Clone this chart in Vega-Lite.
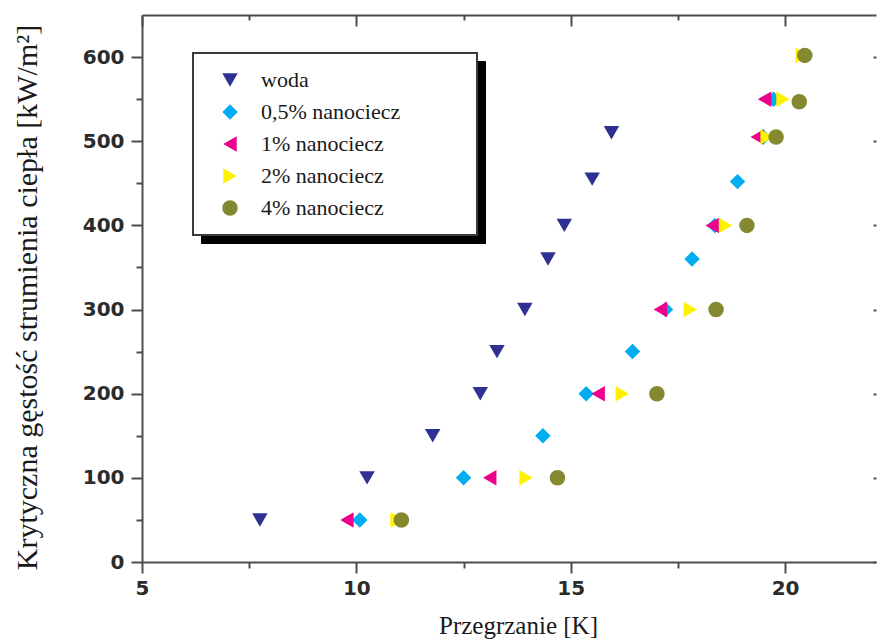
{
  "$schema": "https://vega.github.io/schema/vega-lite/v6.json",
  "width": 734,
  "height": 547,
  "autosize": {"type": "none"},
  "padding": {"left": 142, "top": 15, "right": 1, "bottom": 77},
  "background": "white",
  "config": {"view": {"stroke": null}},
  "data": {
    "values": [
      {"seria": "woda", "x": 7.75, "q": 50},
      {"seria": "woda", "x": 10.25, "q": 100},
      {"seria": "woda", "x": 11.78, "q": 150},
      {"seria": "woda", "x": 12.89, "q": 200},
      {"seria": "woda", "x": 13.28, "q": 250},
      {"seria": "woda", "x": 13.93, "q": 300},
      {"seria": "woda", "x": 14.47, "q": 360},
      {"seria": "woda", "x": 14.85, "q": 400},
      {"seria": "woda", "x": 15.5, "q": 455},
      {"seria": "woda", "x": 15.95, "q": 510},
      {"seria": "0,5% nanociecz", "x": 10.08, "q": 50},
      {"seria": "0,5% nanociecz", "x": 12.5, "q": 100},
      {"seria": "0,5% nanociecz", "x": 14.35, "q": 150},
      {"seria": "0,5% nanociecz", "x": 15.36, "q": 200},
      {"seria": "0,5% nanociecz", "x": 16.44, "q": 250},
      {"seria": "0,5% nanociecz", "x": 17.21, "q": 300},
      {"seria": "0,5% nanociecz", "x": 17.83, "q": 360},
      {"seria": "0,5% nanociecz", "x": 18.36, "q": 400},
      {"seria": "0,5% nanociecz", "x": 18.89, "q": 452},
      {"seria": "0,5% nanociecz", "x": 19.49, "q": 505},
      {"seria": "0,5% nanociecz", "x": 19.73, "q": 550},
      {"seria": "1% nanociecz", "x": 9.78, "q": 50},
      {"seria": "1% nanociecz", "x": 13.11, "q": 100},
      {"seria": "1% nanociecz", "x": 15.64, "q": 200},
      {"seria": "1% nanociecz", "x": 17.09, "q": 300},
      {"seria": "1% nanociecz", "x": 18.3, "q": 400},
      {"seria": "1% nanociecz", "x": 19.35, "q": 505},
      {"seria": "1% nanociecz", "x": 19.52, "q": 550},
      {"seria": "2% nanociecz", "x": 10.95, "q": 50},
      {"seria": "2% nanociecz", "x": 13.96, "q": 100},
      {"seria": "2% nanociecz", "x": 16.2, "q": 200},
      {"seria": "2% nanociecz", "x": 17.79, "q": 300},
      {"seria": "2% nanociecz", "x": 18.61, "q": 400},
      {"seria": "2% nanociecz", "x": 19.58, "q": 505},
      {"seria": "2% nanociecz", "x": 19.95, "q": 550},
      {"seria": "2% nanociecz", "x": 20.4, "q": 602},
      {"seria": "4% nanociecz", "x": 11.05, "q": 50},
      {"seria": "4% nanociecz", "x": 14.69, "q": 100},
      {"seria": "4% nanociecz", "x": 17.01, "q": 200},
      {"seria": "4% nanociecz", "x": 18.39, "q": 300},
      {"seria": "4% nanociecz", "x": 19.11, "q": 400},
      {"seria": "4% nanociecz", "x": 19.79, "q": 505},
      {"seria": "4% nanociecz", "x": 20.33, "q": 547},
      {"seria": "4% nanociecz", "x": 20.46, "q": 602}
    ]
  },
  "layer": [
    {
      "mark": {"type": "point", "filled": true, "size": 240, "strokeWidth": 0},
      "encoding": {
        "x": {
          "field": "x", "type": "quantitative",
          "scale": {"domain": [5, 22.12], "nice": false, "zero": false},
          "axis": {
            "orient": "bottom",
            "values": [5, 7.5, 10, 12.5, 15, 17.5, 20],
            "labelExpr": "datum.value % 5 === 0 ? '' + datum.value : ''",
            "tickSize": {"condition": {"test": "datum.value % 5 !== 0", "value": 6}, "value": 11},
            "tickColor": "#4d4d4d", "tickWidth": 2,
            "domainColor": "#4d4d4d", "domainWidth": 2,
            "labelFont": "DejaVu Sans", "labelFontWeight": "bold", "labelFontSize": 20,
            "labelColor": "#2b2b2b", "labelPadding": 5,
            "labelFlush": false, "labelOverlap": false, "grid": false,
            "title": "Przegrzanie [K]",
            "titleFont": "Liberation Serif", "titleFontSize": 25, "titleFontWeight": "normal",
            "titleColor": "#1a1a1a", "titleBaseline": "alphabetic", "titleX": 376, "titleY": 71
          }
        },
        "y": {
          "field": "q", "type": "quantitative",
          "scale": {"domain": [0, 650], "nice": false},
          "axis": {
            "orient": "left",
            "values": [0, 50, 100, 150, 200, 250, 300, 350, 400, 450, 500, 550, 600],
            "labelExpr": "datum.value % 100 === 0 ? '' + datum.value : ''",
            "tickSize": {"condition": {"test": "datum.value % 100 !== 0", "value": 6}, "value": 11},
            "tickColor": "#4d4d4d", "tickWidth": 2,
            "domainColor": "#4d4d4d", "domainWidth": 2,
            "labelFont": "DejaVu Sans", "labelFontWeight": "bold", "labelFontSize": 20,
            "labelColor": "#2b2b2b", "labelPadding": 7,
            "labelFlush": false, "labelOverlap": false, "grid": false,
            "title": "Krytyczna gęstość strumienia ciepła [kW/m²]",
            "titleFont": "Liberation Serif", "titleFontSize": 30, "titleFontWeight": "normal",
            "titleColor": "#1a1a1a", "titleBaseline": "alphabetic", "titleAlign": "center",
            "titleAngle": 270, "titleX": -106, "titleY": 282
          }
        },
        "color": {
          "field": "seria", "type": "nominal",
          "scale": {
            "domain": ["woda", "0,5% nanociecz", "1% nanociecz", "2% nanociecz", "4% nanociecz"],
            "range": ["#2e3192", "#00aeef", "#ec008c", "#fff200", "#84892f"]
          },
          "legend": {
            "title": null, "orient": "none", "legendX": 51, "legendY": 38, "zindex": 2,
            "padding": 16, "fillColor": "white", "strokeColor": "#3a3a3a",
            "labelFont": "Liberation Serif", "labelFontSize": 22, "labelColor": "#1a1a1a",
            "labelLimit": 400,
            "symbolSize": 240, "symbolOffset": 10, "labelOffset": 20, "rowPadding": 10,
            "symbolStrokeWidth": 0, "symbolOpacity": 1,
            "labelExpr": "datum.label + '\u00a0\u00a0\u00a0\u00a0\u00a0\u00a0\u00a0\u00a0\u00a0\u00a0\u00a0\u200b'",
            "encode": {"legend": {"update": {"strokeWidth": {"value": 2}}}}
          }
        },
        "shape": {
          "field": "seria", "type": "nominal",
          "scale": {
            "domain": ["woda", "0,5% nanociecz", "1% nanociecz", "2% nanociecz", "4% nanociecz"],
            "range": ["triangle-down", "diamond", "triangle-left", "triangle-right", "circle"]
          },
          "legend": {
            "title": null, "orient": "none", "legendX": 51, "legendY": 38, "zindex": 2,
            "padding": 16, "fillColor": "white", "strokeColor": "#3a3a3a",
            "labelFont": "Liberation Serif", "labelFontSize": 22, "labelColor": "#1a1a1a",
            "labelLimit": 400,
            "symbolSize": 240, "symbolOffset": 10, "labelOffset": 20, "rowPadding": 10,
            "symbolStrokeWidth": 0, "symbolOpacity": 1,
            "labelExpr": "datum.label + '\u00a0\u00a0\u00a0\u00a0\u00a0\u00a0\u00a0\u00a0\u00a0\u00a0\u00a0\u200b'",
            "encode": {"legend": {"update": {"strokeWidth": {"value": 2}}}}
          }
        },
        "opacity": {
          "field": "seria", "type": "nominal",
          "sort": ["woda", "0,5% nanociecz", "1% nanociecz", "2% nanociecz", "4% nanociecz"],
          "scale": {"range": [1, 1, 1, 1, 1]},
          "legend": {
            "title": null, "orient": "none", "legendX": 59, "legendY": 46, "zindex": 1,
            "padding": 16, "fillColor": "black", "strokeColor": "black",
            "labelFont": "Liberation Serif", "labelFontSize": 22, "labelColor": "black",
            "labelLimit": 400,
            "symbolSize": 240, "symbolOffset": 10, "labelOffset": 20, "rowPadding": 10,
            "symbolFillColor": "black", "symbolStrokeColor": "black", "symbolType": "circle",
            "labelExpr": "datum.label + '\u00a0\u00a0\u00a0\u00a0\u00a0\u00a0\u00a0\u00a0\u00a0\u00a0\u00a0\u200b'"
          }
        }
      }
    },
    {
      "mark": {"type": "point", "opacity": 0},
      "encoding": {
        "x": {
          "field": "x", "type": "quantitative",
          "scale": {"domain": [5, 22.12], "nice": false, "zero": false},
          "axis": {
            "orient": "top",
            "values": [5, 7.5, 10, 12.5, 15, 17.5, 20],
            "labels": false,
            "tickSize": {"condition": {"test": "datum.value % 5 !== 0", "value": -5}, "value": -11},
            "tickColor": "#4d4d4d", "tickWidth": 2,
            "domainColor": "#4d4d4d", "domainWidth": 2,
            "grid": false, "title": null
          }
        },
        "y": {
          "field": "q", "type": "quantitative",
          "scale": {"domain": [0, 650], "nice": false},
          "axis": {
            "orient": "right",
            "values": [0, 100, 200, 300, 400, 500, 600],
            "labels": false, "domain": false,
            "tickSize": -3, "tickColor": "#4d4d4d", "tickWidth": 2,
            "grid": false, "title": null
          }
        }
      }
    }
  ],
  "resolve": {"axis": {"x": "independent", "y": "independent"}}
}
